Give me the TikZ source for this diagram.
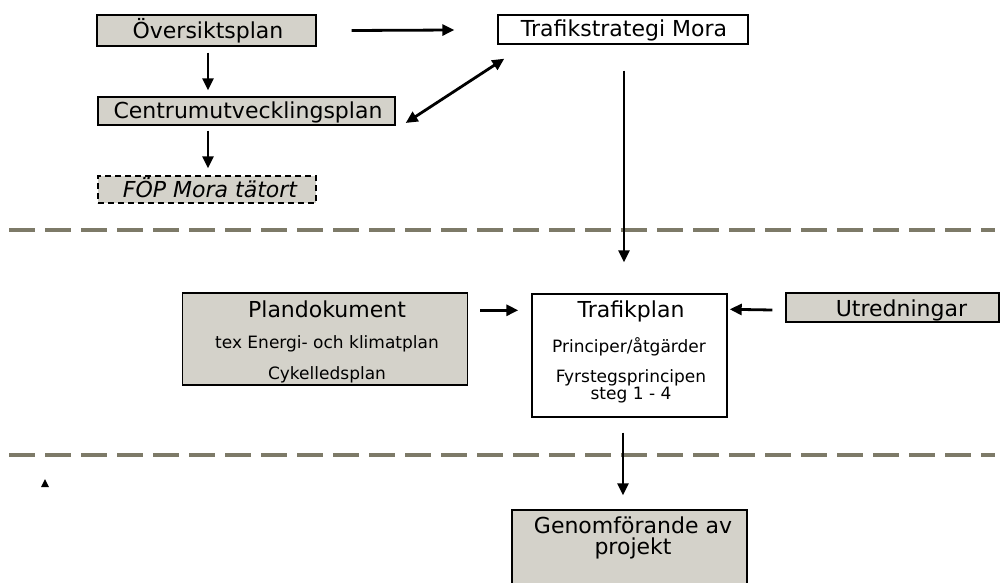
\documentclass[tikz,border=0pt]{standalone}
\usepackage{fontspec}
\setmainfont{DejaVu Sans}
\usetikzlibrary{arrows.meta,calc}
\definecolor{boxgray}{RGB}{212,210,202}
\definecolor{dashgray}{RGB}{125,122,104}
\begin{document}
\begin{tikzpicture}[x=1pt,y=-1pt,
  graybox/.style={draw=black,line width=1.4pt,fill=boxgray,inner sep=0pt},
  whitebox/.style={draw=black,line width=1.4pt,fill=white,inner sep=0pt},
  big/.style={font=\fontsize{22}{26}\selectfont,anchor=base,inner sep=0pt},
  small/.style={font=\fontsize{17}{20}\selectfont,anchor=base,inner sep=0pt},
  arr/.style={line width=2.8pt,-{Triangle[length=12pt,width=11pt]}},
  dblarr/.style={line width=2.8pt,{Triangle[length=12pt,width=11pt]}-{Triangle[length=12pt,width=11pt]}},
  sepline/.style={draw=dashgray,line width=4pt,dash pattern=on 26pt off 10pt}]
\useasboundingbox (0,0) rectangle (1001,583);

% boxes
\node[graybox,minimum width=219pt,minimum height=31pt] (ov) at (206.5,30.5) {};
\node[graybox,minimum width=297pt,minimum height=28pt] (cu) at (246.5,111) {};
\node[graybox,dashed,dash pattern=on 6pt off 4pt,minimum width=218pt,minimum height=27pt] (fop) at (207,189.5) {};
\node[whitebox,minimum width=250pt,minimum height=29pt] (ts) at (623,29.5) {};
\node[graybox,minimum width=285pt,minimum height=92pt] (pd) at (325.2,339) {};
\node[whitebox,minimum width=195pt,minimum height=123pt] (tp) at (629.5,355.5) {};
\node[graybox,minimum width=213pt,minimum height=29pt] (ut) at (892.5,307.5) {};
\node[graybox,minimum width=235pt,minimum height=80pt] (gen) at (629.5,550) {};

% texts
\node[big] (ovt) at (208,39) {Översiktsplan};
\node[big] (cut) at (248,119) {Centrumutvecklingsplan};
\node[big,font=\fontsize{22}{26}\selectfont\itshape] (fopt) at (210,197) {FÖP Mora tätort};
\node[big] (tst) at (624,37) {Trafikstrategi Mora};
\node[big] (pdt1) at (327,317) {Plandokument};
\node[small] (pdt2) at (327,348) {tex Energi- och klimatplan};
\node[small] (pdt3) at (327,379) {Cykelledsplan};
\node[big] (tpt1) at (631,317) {Trafikplan};
\node[small] (tpt2) at (629,352) {Principer/åtgärder};
\node[small] (tpt3) at (631,382) {Fyrstegsprincipen};
\node[small] (tpt4) at (631,399) {steg 1 - 4};
\node[big] (utt) at (901.5,316) {Utredningar};
\node[big] (gent1) at (633,533) {Genomförande av};
\node[big] (gent2) at (633,554) {projekt};

% separators
\coordinate (s1a) at (9,230); \coordinate (s1b) at (995,230);
\coordinate (s2a) at (9,455); \coordinate (s2b) at (995,455);
\draw[sepline] (s1a) -- (s1b);
\draw[sepline] (s2a) -- (s2b);

% connectors
\draw[arr] ($(ov.east)+(35,0)$) -- ($(ts.west)+(-43,0.5)$);
\draw[arr] ($(ov.south)+(1.5,6)$) -- ($(ov.south |- cu.north)+(1.5,-6)$);
\draw[arr] ($(cu.south)+(-38.5,5)$) -- ($(fop.north)+(1,-7)$);
\draw[dblarr] ($(cu.east)+(10,12)$) -- ($(ts.south west)+(7,14)$);
\draw[arr] ($(ts.south)+(1,26)$) -- ($(ts.south |- tp.north)+(1,-31)$);
\draw[arr] ($(pd.north east)+(12,18)$) -- ($(tp.north west)+(-13,17)$);
\draw[arr] ($(ut.west)+(-13,2.5)$) -- ($(tp.north east)+(2,16)$);
\draw[arr] ($(tp.south)+(-6.5,15)$) -- ($(gen.north)+(-6.5,-14)$);

% small triangle mark
\fill (41,487) -- (49,487) -- (45,479) -- cycle;
\end{tikzpicture}
\end{document}
